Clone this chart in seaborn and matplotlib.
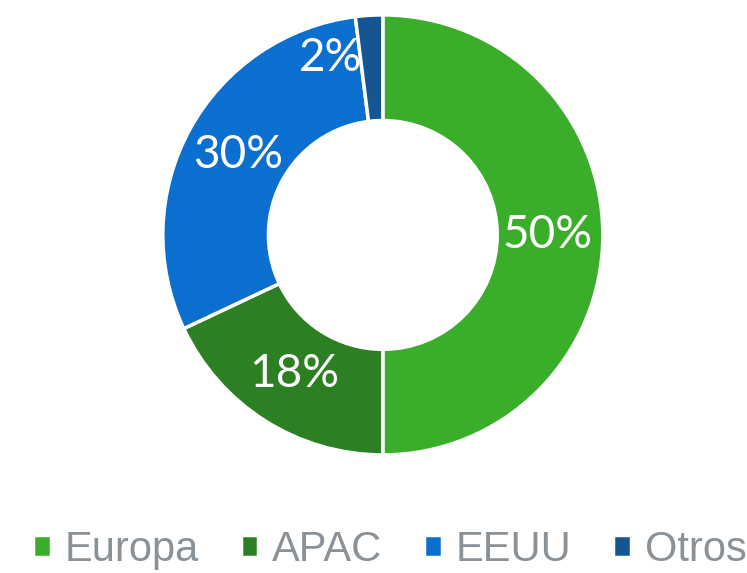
import matplotlib
matplotlib.use("Agg")
import matplotlib.pyplot as plt
import seaborn as sns
import numpy as np

# ==========================
# Data
# ==========================
regions = ["Europa", "APAC", "EEUU", "Otros"]
shares = [50, 18, 30, 2]
colors = ["#3aae2a", "#2c7f22", "#0b6fcf", "#155593"]

sns.set_theme(style="white")
plt.rcParams["font.family"] = ["Liberation Sans", "DejaVu Sans"]

fig = plt.figure(figsize=(7.47, 5.73), dpi=100)
ax = fig.add_axes([0.218, 0.206, 0.589, 0.768])

wedges, _ = ax.pie(
    shares,
    colors=colors,
    startangle=90,
    counterclock=False,
    radius=1.0,
    wedgeprops=dict(width=0.48, edgecolor="white", linewidth=2.5),
)

# percentage labels in the ring
total = sum(shares)
for w, val in zip(wedges, shares):
    mid = np.deg2rad((w.theta1 + w.theta2) / 2)
    r = 0.75
    if val / total < 0.05:
        # tiny slice: push the label into the neighbouring blue area
        mid = mid + np.deg2rad(13)
        r = 0.84
    ax.text(
        r * np.cos(mid), r * np.sin(mid), f"{val}%",
        ha="center", va="center", color="white",
        fontsize=33, family=["Lato", "DejaVu Sans"],
    )

ax.set_xlim(-1, 1)
ax.set_ylim(-1, 1)
ax.set_aspect("equal")
ax.axis("off")

fig.legend(
    wedges, regions,
    loc="center", bbox_to_anchor=(390 / 747, 1 - 550 / 573),
    ncol=4, frameon=False, fontsize=30,
    labelcolor="#8a9197",
    handlelength=0.42, handleheight=0.42,
    handletextpad=0.34, columnspacing=1.0,
    borderaxespad=0, borderpad=0,
)

fig.savefig("out.png", dpi=100)
